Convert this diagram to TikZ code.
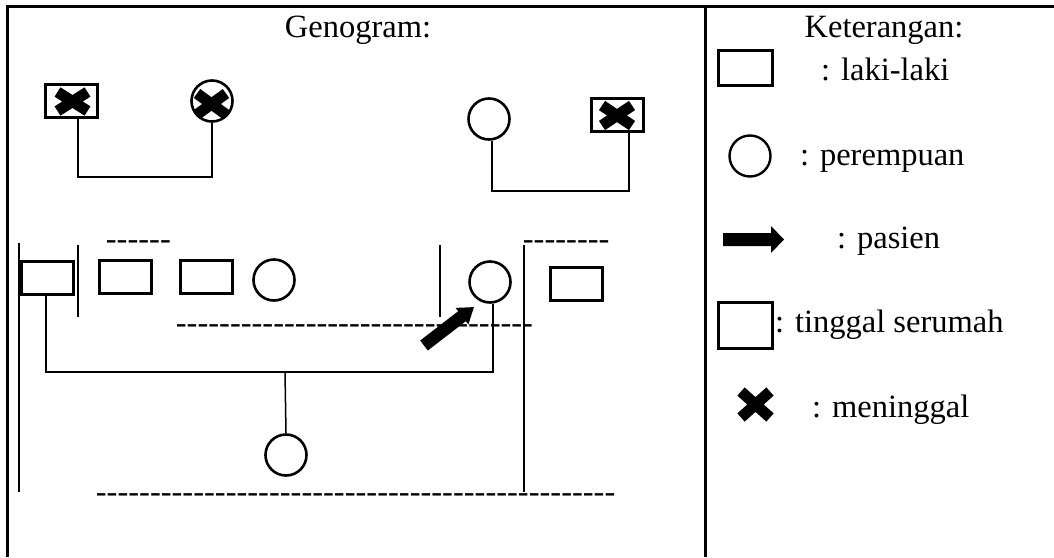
\documentclass[tikz,border=0pt]{standalone}
\usepackage{fontspec}
\setmainfont{Liberation Serif}
% a row of separate hyphens (kept apart so they are not joined into dashes)
\newcommand\hyphrow[1]{\foreach \k in {1,...,#1}{\hbox{-}}}
\begin{document}
\begin{tikzpicture}[x=1pt,y=-1pt,
  frame/.style={line width=3pt},
  conn/.style={line width=1.5pt},
  male/.style={draw,line width=3pt,rectangle,inner sep=0pt,minimum width=52pt,minimum height=33pt},
  female/.style={draw,line width=2.6pt,circle,inner sep=0pt,minimum size=41pt},
  legbox/.style={draw,line width=2.4pt,rectangle,inner sep=0pt},
  label/.style={inner sep=0pt,anchor=base west,font=\fontsize{32.5}{39}\selectfont},
  title/.style={inner sep=0pt,anchor=base,font=\fontsize{32.5}{39}\selectfont},
  hyph/.style={inner sep=0pt,anchor=base west,font=\fontsize{32.5}{39}\selectfont},
  pics/crossmark/.style n args={2}{code={
    \draw[line width=11pt] (-#1,-#2) -- (#1,#2) (-#1,#2) -- (#1,-#2);}}
]
\useasboundingbox (0,0) rectangle (1054,557);

% table frame
\draw[frame] (7,557) -- (7,6.5) -- (1054,6.5);
\draw[frame] (705,6.5) -- (705,557);

\node[title] (t1) at (358,37) {Genogram:};
\node[title] (t2) at (884,37) {Keterangan:};

% grandparents
\node[male] (gf1) at (71.5,101) {};
\pic at (72.5,101.5) {crossmark={15}{9.5}};
\node[female] (gm1) at (212,101) {};
\pic at (211.5,104) {crossmark={14.5}{10.5}};
\node[female] (gm2) at (489,119) {};
\node[male] (gf2) at (617,115) {};
\pic at (617,115.5) {crossmark={15}{10}};

\coordinate (j1) at (212,177);
\draw[conn] ([xshift=6.5pt]gf1.south) |- (j1) -- (gm1.south);
\coordinate (j2) at (629,191);
\draw[conn] ([xshift=3pt]gm2.south) |- (j2) -- ([xshift=12pt]gf2.south);

% second generation
\node[male] (f) at (47,277.5) {};
\node[male] (s1) at (125,277) {};
\node[male] (s2) at (206,277) {};
\node[female] (s3) at (274,280) {};
\node[female] (p) at (490,282) {};
\node[male] (s4) at (576,283.5) {};

% household boundaries
\draw[conn] (19,243) -- (19,492);
\draw[conn] (78,245) -- (78,317);
\draw[conn] (440,245) -- (440,317);
\draw[conn] (524,245) -- (524,492);

\node[hyph] (d1) at (105.7,249.3) {\hyphrow{6}};
\node[hyph] (d2) at (522.7,249.3) {\hyphrow{8}};
\node[hyph] (d3) at (175.7,333.3) {\hyphrow{33}};
\node[hyph] (d4) at (95.7,502.3) {\hyphrow{48}};

% marriage and child
\coordinate (j3) at (493,372);
\draw[conn] ([xshift=-1pt]f.south) |- (j3) -- ([xshift=3pt]p.south);
\node[female] (c) at (286,455) {};
\coordinate (j4) at (285,372);
\draw[conn] (j4) -- (c.north);

% patient arrow
\fill (427.8,350.5) -- (465.8,321.2) -- (468.4,324.5) -- (473.9,307.1)
      -- (455.6,307.9) -- (458.2,311.2) -- (420.2,340.5) -- cycle;

% legend
\node[legbox,minimum width=54pt,minimum height=35pt] (lb1) at (745.5,68) {};
\node[label] (l1) at (821,80) {: laki-laki};
\node[female,line width=2.4pt] (lc) at (750,156) {};
\node[label] (l2) at (800,165) {: perempuan};
\fill (723,233) -- (771,233) -- (771,226) -- (784,239.5) -- (771,253) -- (771,246) -- (723,246) -- cycle;
\node[label] (l3) at (837,248) {: pasien};
\node[legbox,minimum width=54pt,minimum height=46pt] (lb2) at (745.5,325.5) {};
\node[label] (l4) at (775,332) {: tinggal serumah};
\pic at (755.5,404.5) {crossmark={14.5}{13}};
\node[label] (l5) at (812,417) {: meninggal};
\end{tikzpicture}
\end{document}
